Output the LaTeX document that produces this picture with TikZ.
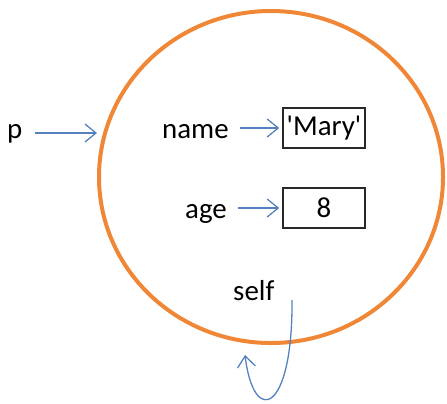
\documentclass[tikz,border=0pt]{standalone}
\usepackage{fontspec}
\setmainfont{Carlito}
\usetikzlibrary{arrows.meta,shapes.geometric}
\definecolor{orng}{RGB}{240,135,55}
\definecolor{blu}{RGB}{85,130,190}
\definecolor{bx}{RGB}{40,40,40}
\tikzset{
  lbl/.style={inner sep=0pt, anchor=base west, font=\fontsize{29}{33}\selectfont},
  valbox/.style={draw=bx, line width=1.6bp, minimum width=82bp, minimum height=40bp, inner sep=0pt, font=\fontsize{29}{33}\selectfont},
  arr/.style={draw=blu, line width=1.3bp, -{Straight Barb[length=11bp,width=18bp,line width=1.3bp]}},
  ring/.style={draw=orng, line width=4bp, ellipse, minimum width=344bp, minimum height=332bp, inner sep=0pt}
}
\begin{document}
\begin{tikzpicture}[x=1bp,y=-1bp]
\useasboundingbox (0,0) rectangle (447,403);
\node[ring] (circ) at (271,177) {};
\node[lbl] (p) at (7,138) {p};
\node[lbl] (name) at (162,138) {name};
\node[lbl] (age) at (185,218) {age};
\node[lbl] (self) at (233,300) {self};
\node[valbox] (mary) at (324,128) {\textquotesingle Mary\textquotesingle};
\node[valbox] (eight) at (324,208) {8};
\coordinate (pend) at (97,133);
\coordinate (s0) at (292,300);
\coordinate (s1) at (245,355);
\draw[arr] ([xshift=12bp]p.east |- pend) -- (pend);
\draw[arr] ([xshift=11bp]name.east |- mary.west) -- ([xshift=-3bp]mary.west);
\draw[arr] ([xshift=11bp]age.east |- eight.west) -- ([xshift=-3bp]eight.west);
\draw[arr] (s0) .. controls (293,412) and (254,428) .. (s1);
\end{tikzpicture}
\end{document}
